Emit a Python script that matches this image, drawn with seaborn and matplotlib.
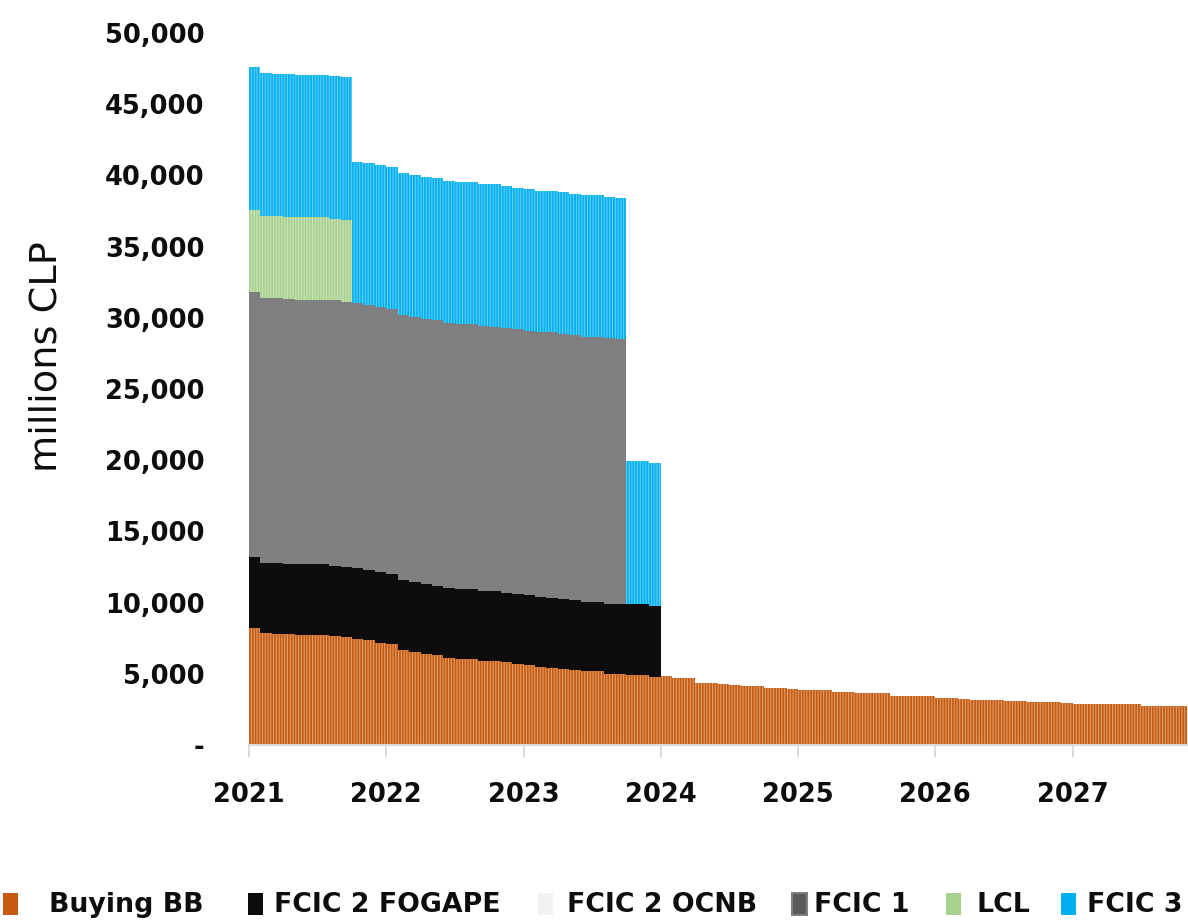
import numpy as np
import pandas as pd
import matplotlib
matplotlib.use("Agg")
import matplotlib.pyplot as plt
from matplotlib.patches import Rectangle
from matplotlib.ticker import FuncFormatter
import seaborn as sns

# --- data (millions CLP, one value per month starting Jan 2021) ---
buying_bb = [8240, 7890, 7820, 7820, 7750, 7750, 7750, 7680, 7590, 7470, 7370, 7190,
             7120, 6700, 6550, 6410, 6340, 6130, 6060, 6060, 5920, 5920, 5810, 5710,
             5620, 5500, 5430, 5340, 5270, 5200, 5200, 5010, 5010, 4920, 4920, 4780,
             4840, 4680, 4680, 4350, 4350, 4280, 4190, 4120, 4120, 3980, 3980, 3910,
             3840, 3840, 3840, 3720, 3720, 3630, 3630, 3630, 3460, 3460, 3460, 3460,
             3320, 3320, 3250, 3140, 3140, 3140, 3070, 3070, 3040, 3040, 3040, 2930,
             2860, 2860, 2860, 2860, 2860, 2860, 2760, 2760, 2760, 2760]
fcic2_fogape = [4980, 4910, 4980, 4870, 4940, 4940, 4940, 4910, 4930, 4930, 4940, 4960,
                4910, 4890, 4900, 4900, 4850, 4920, 4900, 4900, 4890, 4890, 4890, 4870,
                4890, 4890, 4910, 4910, 4890, 4860, 4860, 4910, 4910, 4960, 4960, 5000]
fcic2_ocnb = [0, 0, 0, 0, 0, 0, 0, 0, 0, 0, 0, 0,
              0, 0, 0, 0, 0, 0, 0, 0, 0, 0, 0, 0,
              0, 0, 0, 0, 0, 0, 0, 0, 0, 0, 0, 0]
fcic1 = [18570, 18610, 18570, 18630, 18580, 18580, 18580, 18640, 18590, 18620, 18610,
         18610, 18570, 18610, 18610, 18580, 18630, 18610, 18630, 18580, 18640, 18560,
         18600, 18610, 18580, 18590, 18640, 18630, 18610, 18610, 18610, 18640, 18570]
lcl = [5780, 5760, 5780, 5740, 5790, 5790, 5790, 5730, 5760]
fcic3 = [10040, 10020, 9990, 10040, 9990, 9990, 9990, 10020, 10040, 9940, 9930, 9950,
         9970, 9950, 9950, 9980, 9980, 9930, 9930, 9980, 9950, 10010, 9980, 9930,
         9930, 9950, 9900, 9930, 9950, 9970, 9970, 9920, 9940, 10040, 10040, 10000]

series_names = ["Buying BB", "FCIC 2 FOGAPE", "FCIC 2 OCNB", "FCIC 1", "LCL", "FCIC 3"]
series_values = [buying_bb, fcic2_fogape, fcic2_ocnb, fcic1, lcl, fcic3]
years = ["2021", "2022", "2023", "2024", "2025", "2026", "2027"]

bar_colors = {"Buying BB": "#C55A11", "FCIC 2 FOGAPE": "#0D0D0D", "FCIC 2 OCNB": "#F2F2F2",
              "FCIC 1": "#7F7F7F", "LCL": "#A9D18E", "FCIC 3": "#00B0F0"}
stripe_colors = {"Buying BB": "#E0A070", "LCL": "#CCE4BC", "FCIC 3": "#66CEF4"}
legend_colors = {"Buying BB": "#C55A11", "FCIC 2 FOGAPE": "#0D0D0D", "FCIC 2 OCNB": "#F2F2F2",
                 "FCIC 1": "#595959", "LCL": "#A9D18E", "FCIC 3": "#00B0F0"}

rows = []
for name, vals in zip(series_names, series_values):
    for i, v in enumerate(vals):
        rows.append({"month": i, "series": name, "value": v})
df = pd.DataFrame(rows)

sns.set_theme(style="white")
plt.rcParams["font.family"] = ["DejaVu Sans"]
plt.rcParams["hatch.linewidth"] = 0.75

W, H = 1188, 921
fig = plt.figure(figsize=(W / 100, H / 100), dpi=100)
ax = fig.add_axes([249 / W, 1 - 745 / H, (1187 - 249) / W, (745 - 33) / H])

# seaborn stacks the last hue level at the bottom
sns.histplot(data=df, x="month", weights="value", hue="series",
             hue_order=series_names[::-1], multiple="stack", discrete=True,
             shrink=1.0, palette=bar_colors, alpha=1, linewidth=0,
             legend=False, ax=ax)

# thin light stripes like the original column rendering
stripe_rgb = {matplotlib.colors.to_hex(bar_colors[k]): v for k, v in stripe_colors.items()}
for p in ax.patches:
    p.set_alpha(1)
    fc = matplotlib.colors.to_hex(p.get_facecolor())
    if fc in stripe_rgb and p.get_height() > 0:
        p.set_hatch("||||||")
        p.set_edgecolor(stripe_rgb[fc])
        p.set_linewidth(0)

ax.set_xlim(-0.5, 81.5)
ax.set_ylim(0, 50000)
ax.set_xticks([-0.5 + 12 * k for k in range(len(years))])
ax.set_xticklabels(years)
ax.set_yticks(np.arange(0, 50001, 5000))
ax.yaxis.set_major_formatter(FuncFormatter(lambda v, _: "-" if v == 0 else f"{v:,.0f}"))
ax.set_xlabel("")
ax.set_ylabel("")

for s in ["top", "right", "left"]:
    ax.spines[s].set_visible(False)
ax.spines["bottom"].set_color("#D9D9D9")
ax.spines["bottom"].set_linewidth(1.5)

ax.tick_params(axis="y", length=0, pad=32, labelsize=18.5)
ax.tick_params(axis="x", length=8.6, width=1.4, color="#D9D9D9", pad=18,
               labelsize=18.5, direction="out", bottom=True)
for lab in ax.get_xticklabels() + ax.get_yticklabels():
    lab.set_fontweight("bold")
    lab.set_color("#0D0D0D")

fig.text(47 / W, 1 - 357 / H, "millions CLP", rotation=90, ha="center", va="center",
         fontsize=27.5, color="#0D0D0D")

# legend laid out like the original, one entry at a time
marker_left = [3, 248, 538, 792, 946, 1061]
text_left = [49, 274, 567, 814, 977, 1087]
for name, mx, tx in zip(series_names, marker_left, text_left):
    edge = "#7F7F7F" if name == "FCIC 1" else legend_colors[name]
    fig.add_artist(Rectangle((mx / W, 1 - 915 / H), 15 / W, 22 / H, transform=fig.transFigure,
                             facecolor=legend_colors[name], edgecolor=edge,
                             linewidth=1.5 if name == "FCIC 1" else 0))
    fig.text(tx / W, 1 - 912 / H, name, ha="left", va="baseline", fontsize=19.3,
             fontweight="bold", color="#0D0D0D")

fig.savefig("out.png", dpi=100)
